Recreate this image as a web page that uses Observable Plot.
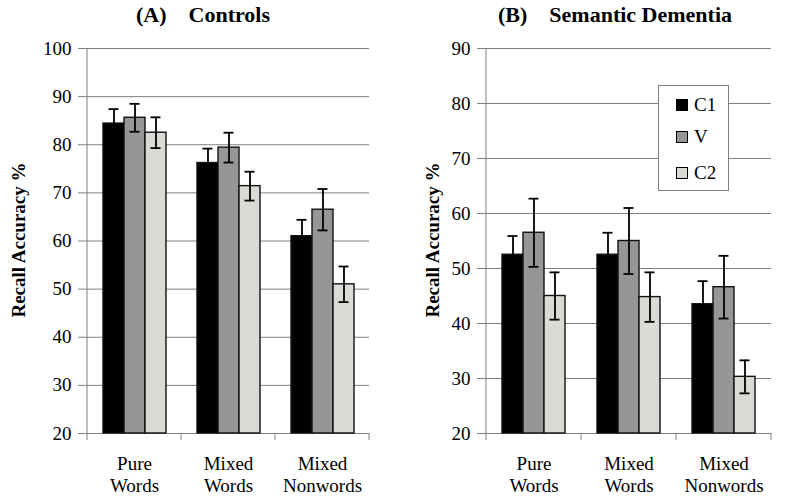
<!DOCTYPE html>
<html><head><meta charset="utf-8">
<script src="https://cdn.jsdelivr.net/npm/d3@7"></script>
<script src="https://cdn.jsdelivr.net/npm/@observablehq/plot@0.6"></script>
<style>
body{margin:0;background:#fff}
#root{position:relative;width:791px;height:502px;overflow:hidden;font-family:"Liberation Serif","Times New Roman",Times,"DejaVu Serif",serif;color:#000}
#root svg, #root svg text{font-family:"Liberation Serif","Times New Roman",Times,"DejaVu Serif",serif !important}
.panel{position:absolute;top:0}
.title{position:absolute;top:2px;font-weight:bold;font-size:22px;line-height:26px;white-space:pre;transform:translateX(-50%)}
.ylab{position:absolute;font-weight:bold;font-size:19px;white-space:nowrap;transform:translate(-50%,-50%) rotate(-90deg)}
#legend{position:absolute;left:658px;top:85px;width:69px;height:104px;border:1px solid #808080;background:#fff;z-index:5}
.item{position:absolute;left:17px;height:20px;display:flex;align-items:center;font-size:19px}
.sw{width:10px;height:10px;border:1px solid #000;margin-right:6px}
</style>
</head><body>
<div id="root"></div>
<script>
// ---- data ----
const categories = ["Pure\nWords", "Mixed\nWords", "Mixed\nNonwords"];
const series = ["C1", "V", "C2"];
const seriesColors = ["#000000", "#969696", "#dcdad5"];
// Panel A: Controls (rows = categories, cols = series)
const controlsMean = [[84.4, 85.6, 82.5], [76.2, 79.4, 71.4], [61.0, 66.5, 51.0]];
const controlsErr  = [[3.0, 2.9, 3.2], [3.0, 3.1, 3.0], [3.4, 4.3, 3.7]];
const controlsTicks = [20, 30, 40, 50, 60, 70, 80, 90, 100];
// Panel B: Semantic Dementia
const sdMean = [[52.5, 56.5, 45.0], [52.5, 55.0, 44.8], [43.5, 46.6, 30.3]];
const sdErr  = [[3.4, 6.2, 4.3], [4.0, 6.0, 4.5], [4.2, 5.7, 3.0]];
const sdTicks = [20, 30, 40, 50, 60, 70, 80, 90];
const titles = ["(A)    Controls", "(B)    Semantic Dementia"];
const yLabel = "Recall Accuracy %";

const root = document.getElementById("root");
const FONT = "Liberation Serif, Times New Roman, Times, DejaVu Serif, serif";

function panel({means, errs, ticks, left, width, marginLeft, marginRight}) {
  const data = [];
  categories.forEach((c, i) => series.forEach((s, j) => data.push({
    cat: c, series: s, value: means[i][j],
    lo: means[i][j] - errs[i][j], hi: means[i][j] + errs[i][j]
  })));
  const yMin = ticks[0], yMax = ticks[ticks.length - 1];
  const chart = Plot.plot({
    width, height: 502, marginTop: 48, marginBottom: 69, marginLeft, marginRight,
    style: {fontFamily: FONT, fontSize: "19px", color: "#000", background: "#fff"},
    fx: {domain: categories, padding: 0, label: null, axis: null},
    x: {domain: series, paddingInner: 0, paddingOuter: 0.7, axis: null},
    y: {domain: [yMin, yMax]},
    color: {domain: series, range: seriesColors},
    marks: [
      Plot.gridY(ticks, {stroke: "#808080", strokeOpacity: 1, strokeWidth: 1}),
      Plot.ruleY([yMin], {stroke: "#808080", strokeWidth: 1}),
      Plot.barY(data, {fx: "cat", x: "series", y1: yMin, y2: "value", fill: "series", stroke: "#111", strokeWidth: 1.4}),
      Plot.ruleX(data, {fx: "cat", x: "series", y1: "lo", y2: "hi", stroke: "#000", strokeWidth: 1.8}),
      Plot.tickY(data, {fx: "cat", x: "series", y: "hi", stroke: "#000", strokeWidth: 1.8, inset: 5.5}),
      Plot.tickY(data, {fx: "cat", x: "series", y: "lo", stroke: "#000", strokeWidth: 1.8, inset: 5.5}),
      Plot.axisY(ticks, {tickSize: 9, tickPadding: 7, stroke: "#808080", fill: "#000", label: null, fontSize: 19}),
      Plot.axisFx({anchor: "bottom", tickSize: 0, tickPadding: 20, fontSize: 19, lineHeight: 1.2, label: null})
    ]
  });
  // axis line and category boundary ticks from the library's scales
  const fx = chart.scale("fx"), y = chart.scale("y");
  const svg = d3.select(chart);
  const x0 = fx.apply(categories[0]);
  const yb = y.apply(yMin), yt = y.apply(yMax);
  svg.append("line").attr("x1", x0).attr("x2", x0).attr("y1", yt).attr("y2", yb)
    .attr("stroke", "#808080").attr("stroke-width", 1);
  const bounds = categories.map(c => fx.apply(c));
  bounds.push(fx.apply(categories[categories.length - 1]) + fx.bandwidth);
  bounds.forEach(bx => svg.append("line").attr("x1", bx).attr("x2", bx)
    .attr("y1", yb).attr("y2", yb + 7).attr("stroke", "#808080").attr("stroke-width", 1));
  svg.selectAll("text").style("font-family", FONT);
  const wrap = document.createElement("div");
  wrap.className = "panel";
  wrap.style.left = left + "px";
  wrap.appendChild(chart);
  root.appendChild(wrap);
}

panel({means: controlsMean, errs: controlsErr, ticks: controlsTicks, left: 0, width: 395, marginLeft: 86, marginRight: 26});
panel({means: sdMean, errs: sdErr, ticks: sdTicks, left: 395, width: 396, marginLeft: 91, marginRight: 20});

// titles
[[titles[0], 203], [titles[1], 615]].forEach(([t, cx]) => {
  const d = document.createElement("div");
  d.className = "title"; d.textContent = t; d.style.left = cx + "px";
  root.appendChild(d);
});
// y labels
[19, 433].forEach(cx => {
  const d = document.createElement("div");
  d.className = "ylab"; d.textContent = yLabel;
  d.style.left = cx + "px"; d.style.top = "240px";
  root.appendChild(d);
});
// legend
const lg = document.createElement("div");
lg.id = "legend";
const tops = [9, 41, 77];
series.forEach((s, i) => {
  const it = document.createElement("div");
  it.className = "item"; it.style.top = tops[i] + "px";
  const sw = document.createElement("span");
  sw.className = "sw"; sw.style.background = seriesColors[i];
  const tx = document.createElement("span"); tx.textContent = s;
  it.appendChild(sw); it.appendChild(tx);
  lg.appendChild(it);
});
root.appendChild(lg);
</script>
</body></html>
